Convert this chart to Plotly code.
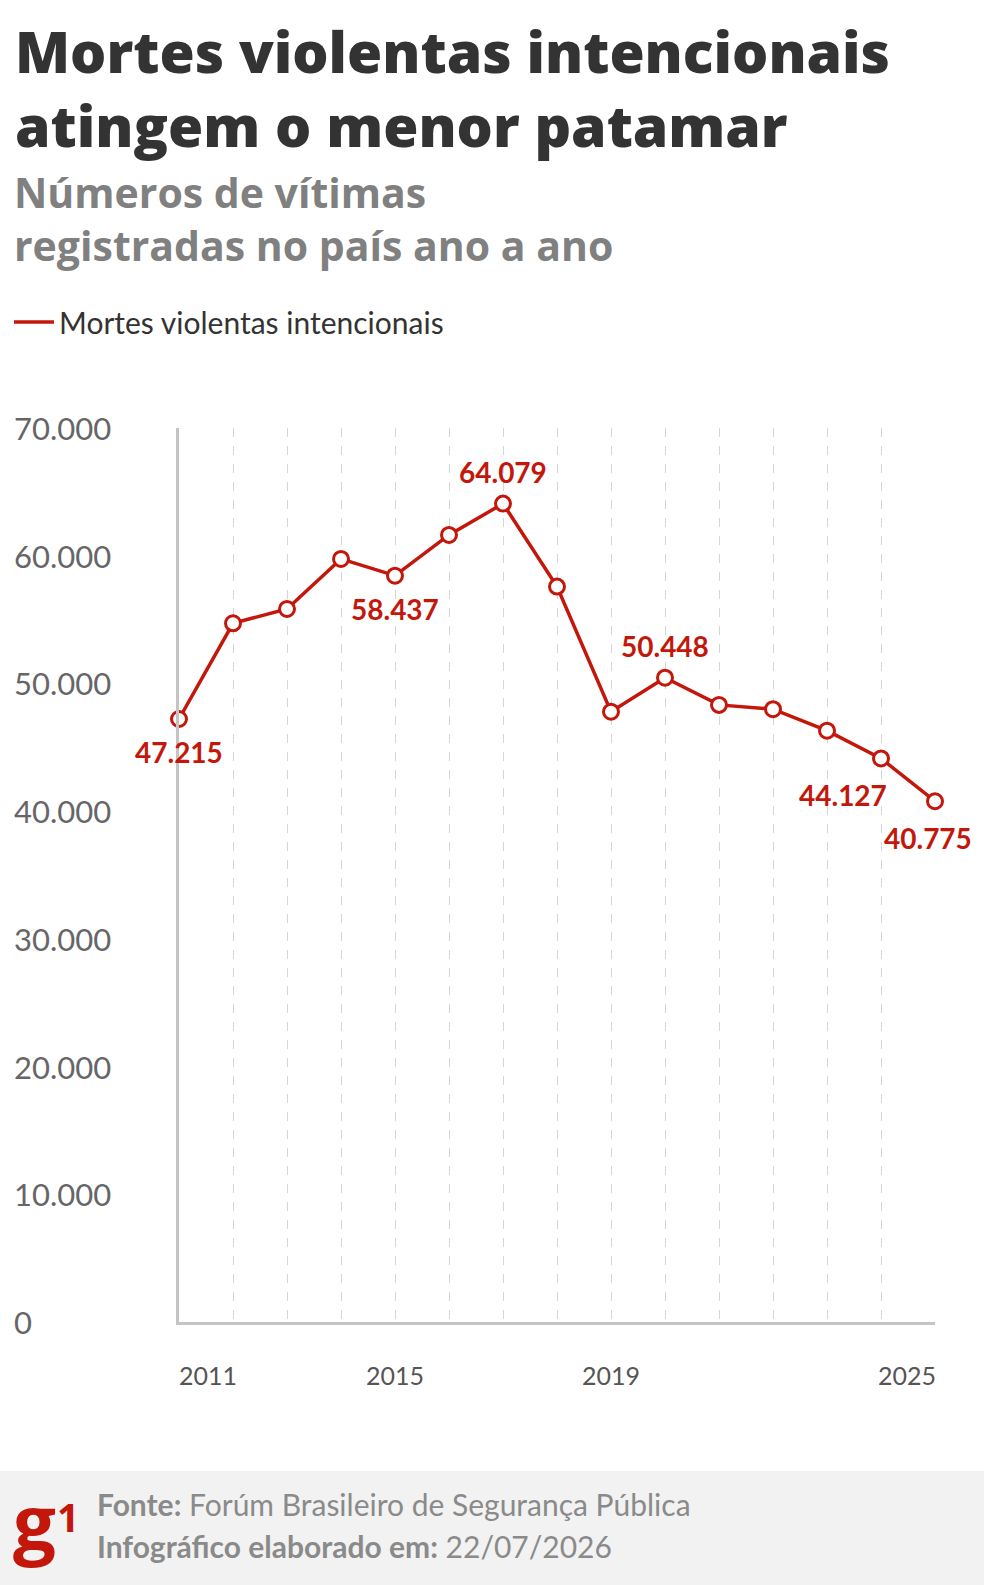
import plotly.graph_objects as go

# ---------------- data ----------------
years = [2011, 2012, 2013, 2014, 2015, 2016, 2017, 2018, 2019, 2020, 2021, 2022, 2023, 2024, 2025]
mortes = [47215, 54710, 55830, 59750, 58437, 61630, 64079, 57580, 47790, 50448, 48320, 47980, 46300, 44127, 40775]
series_name = "Mortes violentas intencionais"

y_tick_vals = [0, 10000, 20000, 30000, 40000, 50000, 60000, 70000]
y_tick_text = ["0", "10.000", "20.000", "30.000", "40.000", "50.000", "60.000", "70.000"]
x_tick_vals = [2011, 2015, 2019, 2025]
x_tick_text = ["2011", "2015", "2019", "2025"]

labelled_years = [2011, 2015, 2017, 2020, 2024, 2025]
label_texts = ["47.215", "58.437", "64.079", "50.448", "44.127", "40.775"]
label_side = ["below", "below", "above", "above", "below-left", "below"]

title_lines = ["Mortes violentas intencionais", "atingem o menor patamar"]
subtitle_lines = ["Números de vítimas", "registradas no país ano a ano"]
source_line = "<b>Fonte:</b> Forúm Brasileiro de Segurança Pública"
date_line = "<b>Infográfico elaborado em:</b> 22/07/2026"

# ---------------- style ----------------
RED = "#c4170c"
W, H = 984, 1585
L, R, T, B = 179, 935, 428, 1322
FONT = "Lato"
HEAD_FONT = "Open Sans"


def px_x(px):
    return (px - L) / (R - L)


def px_y(py):
    return (B - py) / (B - T)


fig = go.Figure()
fig.add_trace(go.Scatter(
    x=years, y=mortes, mode="lines+markers", name=series_name, showlegend=False,
    line=dict(color=RED, width=3.5),
    marker=dict(symbol="circle", size=15, color="white", line=dict(color=RED, width=3)),
    cliponaxis=False, hoverinfo="x+y",
))
# legend entry (line only)
fig.add_trace(go.Scatter(
    x=[None], y=[None], mode="lines", name=series_name,
    line=dict(color=RED, width=3.5), showlegend=True,
))

annotations = []
# title (one block per heading)
annotations.append(dict(
    text="<br>".join(title_lines), xref="paper", yref="paper", x=px_x(14), y=px_y(88),
    xanchor="left", yanchor="middle", align="left", showarrow=False, borderpad=0,
    font=dict(family=HEAD_FONT, size=57, color="#333333", weight=800),
))
annotations.append(dict(
    text="<br>".join(subtitle_lines), xref="paper", yref="paper", x=px_x(13), y=px_y(218),
    xanchor="left", yanchor="middle", align="left", showarrow=False, borderpad=0,
    font=dict(family=HEAD_FONT, size=41, color="#808080", weight=700),
))

# y tick labels (left aligned)
for v, t in zip(y_tick_vals, y_tick_text):
    annotations.append(dict(
        text=t, xref="paper", yref="y", x=px_x(12), y=v,
        xanchor="left", yanchor="middle", showarrow=False,
        font=dict(family=FONT, size=31, color="#666666"),
    ))
# x tick labels
for i, (v, t) in enumerate(zip(x_tick_vals, x_tick_text)):
    anchor = "left" if i == 0 else ("right" if i == len(x_tick_vals) - 1 else "center")
    annotations.append(dict(
        text=t, xref="x", yref="paper", x=v, y=px_y(1375),
        xanchor=anchor, yanchor="middle", showarrow=False,
        xshift=-2 if anchor == "left" else (3 if anchor == "right" else 0),
        font=dict(family=FONT, size=25, color="#555555"),
    ))

# data labels
val_by_year = dict(zip(years, mortes))
for yr, txt, side in zip(labelled_years, label_texts, label_side):
    a = dict(text=f"<b>{txt}</b>", xref="x", yref="y", x=yr, y=val_by_year[yr],
             showarrow=False, font=dict(family=FONT, size=28, color=RED))
    if side == "above":
        a.update(xanchor="center", yanchor="bottom", yshift=13)
    elif side == "below":
        a.update(xanchor="center", yanchor="top", yshift=-14)
    else:
        a.update(xanchor="right", yanchor="top", yshift=-18, xshift=8)
    if yr == years[-1]:
        a.update(xshift=-7, yshift=-18)
    annotations.append(a)

# footer: g1 logo
annotations.append(dict(
    text="<b>g</b>", xref="paper", yref="paper", x=px_x(12), y=px_y(1520),
    xanchor="left", yanchor="middle", showarrow=False, borderpad=0,
    font=dict(family=HEAD_FONT, size=76, color=RED, weight=800),
))
annotations.append(dict(
    text="<b>1</b>", xref="paper", yref="paper", x=px_x(56), y=px_y(1516),
    xanchor="left", yanchor="middle", showarrow=False, borderpad=0,
    font=dict(family=HEAD_FONT, size=39, color=RED, weight=800),
))
for txt, cy in zip([source_line, date_line], [1504, 1546]):
    annotations.append(dict(
        text=txt, xref="paper", yref="paper", x=px_x(95), y=px_y(cy),
        xanchor="left", yanchor="middle", showarrow=False,
        font=dict(family=FONT, size=30, color="#8a8a8a"),
    ))

shapes = [dict(
    type="rect", xref="paper", yref="paper", layer="below",
    x0=px_x(-30), x1=px_x(W + 30), y0=px_y(H + 30), y1=px_y(1471),
    fillcolor="#f2f2f2", line=dict(width=0),
)]

fig.update_layout(
    width=W, height=H,
    margin=dict(l=L, r=W - R, t=T, b=H - B, pad=0, autoexpand=False),
    paper_bgcolor="white", plot_bgcolor="white",
    font=dict(family=FONT),
    showlegend=True,
    legend=dict(
        xref="container", yref="container",
        x=9 / W, y=1 - 322 / H, xanchor="left", yanchor="middle",
        font=dict(family=FONT, size=30, color="#333333"),
        bgcolor="rgba(0,0,0,0)", itemwidth=40,
    ),
    xaxis=dict(
        range=[years[0], years[-1]], showgrid=True, dtick=1, tick0=years[0],
        gridcolor="#d6d6d6", griddash="dash", gridwidth=1,
        showline=True, linecolor="#c4c4c4", linewidth=3,
        showticklabels=False, ticks="", zeroline=False, fixedrange=True,
    ),
    yaxis=dict(
        range=[0, 70000], showgrid=False, showline=True, linecolor="#c4c4c4",
        linewidth=3, showticklabels=False, ticks="", zeroline=False, fixedrange=True,
    ),
    annotations=annotations, shapes=shapes,
)

fig.write_html("out.html")
